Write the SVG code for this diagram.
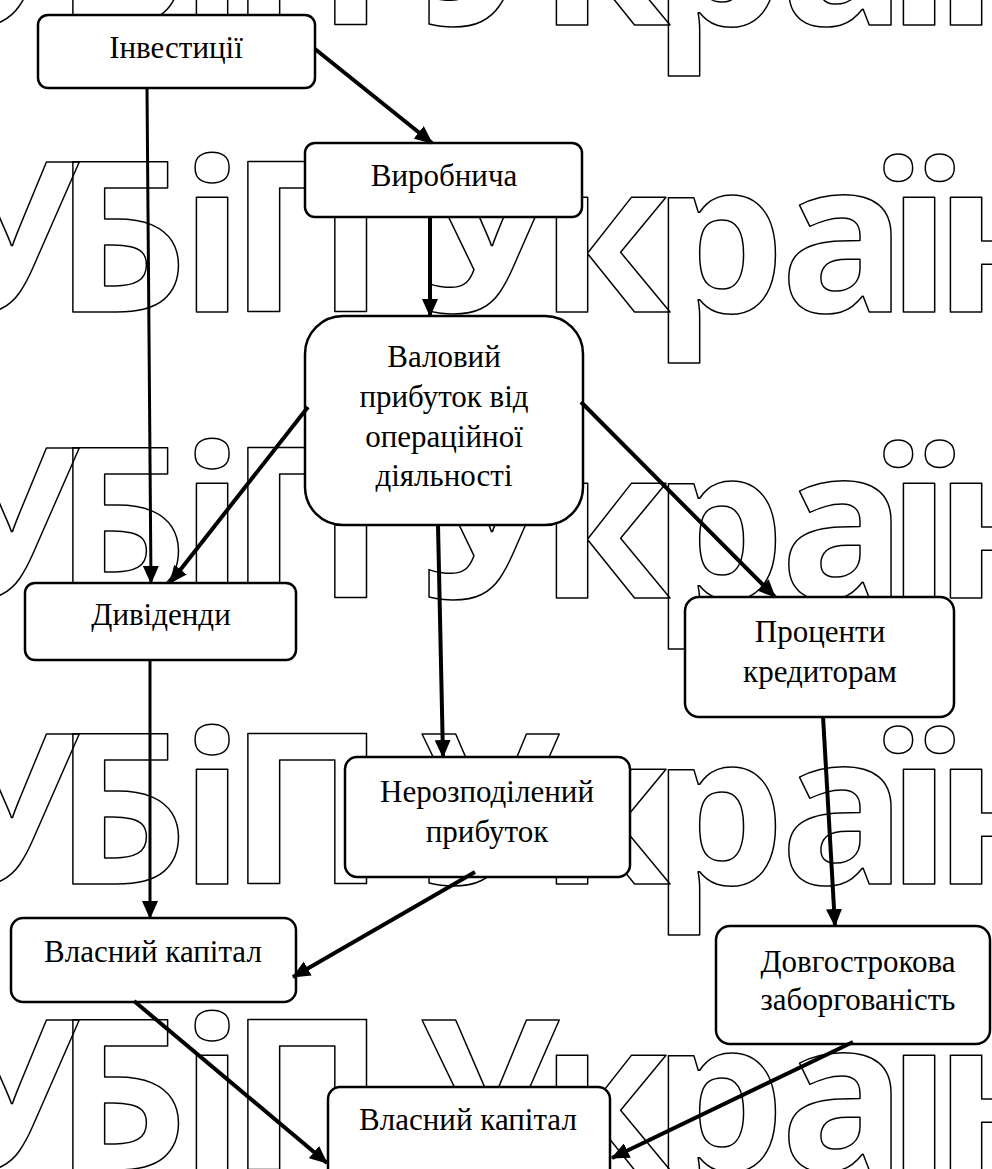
<svg xmlns="http://www.w3.org/2000/svg" width="992" height="1169" viewBox="0 0 992 1169">
<style>
.wm{font-family:"Open Sans","DejaVu Sans",sans-serif;font-weight:bold;font-size:210px;fill:none;stroke:#000;stroke-width:1.5;stroke-linejoin:round}
.box{fill:#fff;stroke:#000;stroke-width:2.5}
.lbl{font-family:"Liberation Serif","Times New Roman",serif;font-size:31px;text-anchor:middle;fill:#000}
.edge{stroke:#000;stroke-width:4;fill:none;marker-end:url(#ah)}
</style>
<defs>
<marker id="ah" markerUnits="userSpaceOnUse" viewBox="0 0 18 16" markerWidth="18" markerHeight="16" refX="17" refY="8" orient="auto">
<path d="M0,0 L18,8 L0,16 z" fill="#000"/>
</marker>
</defs>
<rect x="0" y="0" width="992" height="1169" fill="#fff"/>
<g id="watermark">
<text class="wm" x="-60 54 180 229 380 420 540 652 780 887 934" y="25">УБіП Україн</text>
<text class="wm" x="-60 54 180 229 380 420 540 652 780 887 934" y="312">УБіП Україн</text>
<text class="wm" x="-60 54 180 229 380 420 540 652 780 887 934" y="598">УБіП Україн</text>
<text class="wm" x="-60 54 180 229 380 420 540 652 780 887 934" y="884">УБіП Україн</text>
<text class="wm" x="-60 54 180 229 380 420 540 652 780 887 934" y="1170">УБіП Україн</text>
</g>
<g id="node-investytsii"><rect class="box" x="38" y="15" width="277" height="73" rx="10"/><text class="lbl" x="176" y="58">Інвестиції</text></g>
<g id="node-vyrobnycha"><rect class="box" x="305" y="143" width="277" height="74" rx="10"/><text class="lbl" x="444" y="186">Виробнича</text></g>
<g id="node-valovyi"><rect class="box" x="305" y="316" width="278" height="209" rx="38"/><text class="lbl" x="444" y="367">Валовий</text><text class="lbl" x="444" y="407">прибуток від</text><text class="lbl" x="444" y="447">операційної</text><text class="lbl" x="444" y="486">діяльності</text></g>
<g id="node-dyvidendy"><rect class="box" x="25" y="583" width="271" height="77" rx="10"/><text class="lbl" x="161" y="625">Дивіденди</text></g>
<g id="node-protsenty"><rect class="box" x="685" y="597" width="269" height="120" rx="14"/><text class="lbl" x="820" y="642">Проценти</text><text class="lbl" x="820" y="682">кредиторам</text></g>
<g id="node-nerozpodilenyi"><rect class="box" x="345" y="757" width="285" height="120" rx="12"/><text class="lbl" x="487" y="802">Нерозподілений</text><text class="lbl" x="487" y="842">прибуток</text></g>
<g id="node-vlasnyi1"><rect class="box" x="11" y="918" width="285" height="84" rx="12"/><text class="lbl" x="153" y="962">Власний капітал</text></g>
<g id="node-dovhostrokova"><rect class="box" x="716" y="926" width="274" height="118" rx="14"/><text class="lbl" x="858" y="972">Довгострокова</text><text class="lbl" x="858" y="1010">заборгованість</text></g>
<g id="node-vlasnyi2"><rect class="box" x="328" y="1087" width="282" height="110" rx="12"/><text class="lbl" x="468" y="1130">Власний капітал</text></g>
<g id="connectors">
<line class="edge" x1="315" y1="49" x2="432" y2="143"/>
<line class="edge" x1="147" y1="88" x2="151" y2="583" style="stroke-width:3"/>
<line class="edge" x1="430" y1="217" x2="430" y2="316"/>
<line class="edge" x1="308" y1="407" x2="170" y2="583"/>
<line class="edge" x1="581" y1="402" x2="775" y2="597"/>
<line class="edge" x1="438" y1="525" x2="443" y2="757"/>
<line class="edge" x1="150" y1="660" x2="150" y2="918" style="stroke-width:3"/>
<line class="edge" x1="823" y1="716" x2="835" y2="926"/>
<line class="edge" x1="475" y1="872" x2="293" y2="977"/>
<line class="edge" x1="134" y1="1001" x2="327" y2="1163"/>
<line class="edge" x1="853" y1="1042" x2="612" y2="1158"/>
</g>
</svg>
